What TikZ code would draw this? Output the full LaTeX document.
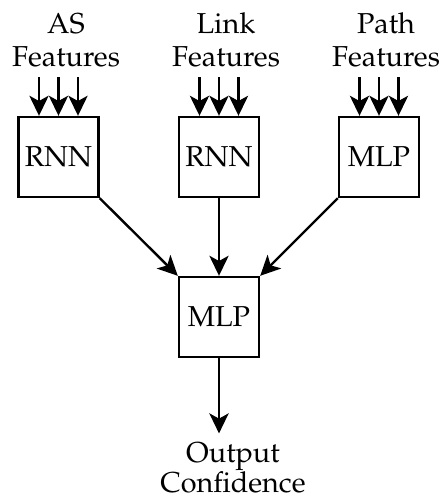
\documentclass[tikz,border=0pt]{standalone}
\usepackage[T1]{fontenc}
\usepackage{mathpazo}
\usetikzlibrary{arrows.meta}

\tikzset{
  netbox/.style={draw, line width=1.7pt, minimum size=2cm, inner sep=0pt,
    font=\fontsize{20.5}{23}\selectfont},
  featlabel/.style={align=center, inner sep=0pt,
    font=\fontsize{20.5}{23.5}\selectfont},
  flow/.style={-{Stealth[length=0.5cm,width=0.48cm,inset=0.13cm]}, line width=1.7pt}
}

\begin{document}
\begin{tikzpicture}[x=0.025cm, y=-0.025cm]
    \useasboundingbox (0,0) rectangle (440,502);

    % the networks
    \node[netbox] (asnet) at (58.5,157) {RNN};
    \node[netbox] (linknet) at (219,157) {RNN};
    \node[netbox] (pathnet) at (379,157) {MLP};
    \node[netbox] (mlp) at (219,317) {MLP};

    % the inputs and the output
    \node[featlabel] (asfeat) at (66,40) {AS\\Features};
    \node[featlabel] (linkfeat) at (226,40) {Link\\Features};
    \node[featlabel] (pathfeat) at (386,40) {Path\\Features};
    \node[featlabel, inner sep=0.22cm, font=\fontsize{20.5}{20.5}\selectfont] (out) at (233,468) {Output\\Confidence};

    % start points of the input arrows
    \coordinate (as1) at (39,77);
    \coordinate (as2) at (58.5,77);
    \coordinate (as3) at (78,77);
    \coordinate (link1) at (199.5,77);
    \coordinate (link2) at (219,77);
    \coordinate (link3) at (238.5,77);
    \coordinate (path1) at (359.5,77);
    \coordinate (path2) at (379,77);
    \coordinate (path3) at (398.5,77);

    % draw the arrows
    \draw[flow] (as1) -- (as1 |- asnet.north);
    \draw[flow] (as2) -- (as2 |- asnet.north);
    \draw[flow] (as3) -- (as3 |- asnet.north);
    \draw[flow] (link1) -- (link1 |- linknet.north);
    \draw[flow] (link2) -- (link2 |- linknet.north);
    \draw[flow] (link3) -- (link3 |- linknet.north);
    \draw[flow] (path1) -- (path1 |- pathnet.north);
    \draw[flow] (path2) -- (path2 |- pathnet.north);
    \draw[flow] (path3) -- (path3 |- pathnet.north);
    %
    \draw[flow] (asnet.south east) -- (mlp.north west);
    \draw[flow] (linknet.south) -- (mlp.north);
    \draw[flow] (pathnet.south west) -- (mlp.north east);
    \draw[flow] (mlp.south) -- (mlp.south |- out.north);
\end{tikzpicture}
\end{document}
